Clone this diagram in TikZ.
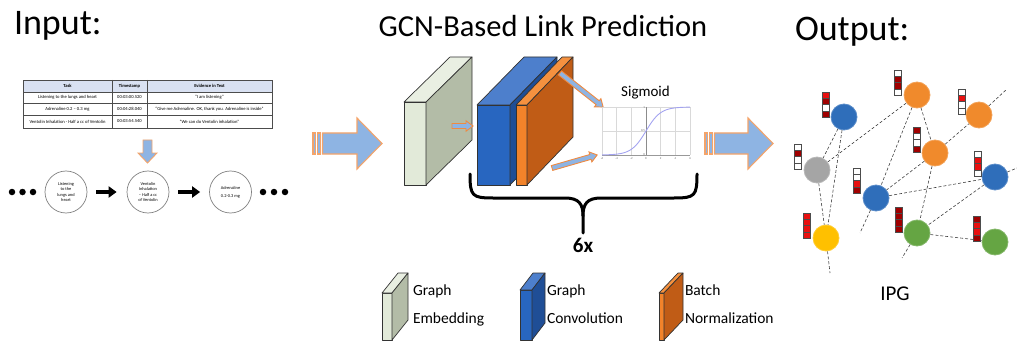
\documentclass[tikz,border=0pt]{standalone}
\usepackage{fontspec}
\setmainfont{Carlito}
\usetikzlibrary{arrows.meta}

\definecolor{arrblue}{HTML}{8EB4E3}
\definecolor{arrorange}{HTML}{F4A46A}
\definecolor{gefront}{HTML}{E2EAD9}
\definecolor{getop}{HTML}{E9EFE2}
\definecolor{geside}{HTML}{B3BCA7}
\definecolor{gcfront}{HTML}{2866C0}
\definecolor{gctop}{HTML}{4D7FCC}
\definecolor{gcside}{HTML}{1F4E96}
\definecolor{bnfront}{HTML}{F2832A}
\definecolor{bntop}{HTML}{F5913F}
\definecolor{bnside}{HTML}{C05C16}
\definecolor{nblue}{HTML}{2F6EBA}
\definecolor{norange}{HTML}{F08A2C}
\definecolor{ngray}{HTML}{A5A5A5}
\definecolor{nyellow}{HTML}{FFC000}
\definecolor{ngreen}{HTML}{65A543}
\definecolor{fred}{HTML}{E81010}
\definecolor{fdark}{HTML}{A00000}
\definecolor{thead}{HTML}{D9E1F2}
\definecolor{sigc}{HTML}{A3A3F0}
\definecolor{smorange}{HTML}{F08A40}

\newcommand{\drawblock}[9]{%
  \filldraw[blockline, fill=#7] (#1,#2) rectangle (#3,#4);
  \filldraw[blockline, fill=#8] (#1,#2) -- (#3,#2) -- ++(#5,#6) -- ++(#1-#3,0) -- cycle;
  \filldraw[blockline, fill=#9] (#3,#2) -- ++(#5,#6) -- ++(0,#4-#2) -- (#3,#4) -- cycle;
}
\newcommand{\fbar}[6]{%
  \foreach \cc [count=\ii from 0] in {#3,#4,#5,#6} {
    \filldraw[draw=black!70, line width=0.6pt, fill=\cc] (#1,#2+\ii*6.3) rectangle ++(7,6.3);
  }
}
\newcommand{\smallarr}[4]{%
  \begin{scope}[shift={(#1)}, rotate=#2]
    \filldraw[smallarrow] (0,-2.5) -- (#3-7,-2.5) -- (#3-7,-5.2) -- (#3,0) -- (#3-7,5.2) -- (#3-7,2.5) -- (0,2.5) -- cycle;
  \end{scope}
}

\begin{document}
\begin{tikzpicture}[x=1pt,y=-1pt,
  txt/.style={inner sep=0pt, outer sep=0pt},
  blockline/.style={draw=black!80, line width=0.7pt, line join=round},
  bigarrow/.style={fill=arrblue, draw=arrorange, line width=1.1pt, line join=miter},
  smallarrow/.style={fill=arrblue, draw=smorange, line width=0.9pt},
  cell/.style={txt, font=\fontsize{4.6}{5.5}\selectfont},
  hcell/.style={txt, font=\fontsize{4.6}{5.5}\selectfont\bfseries},
  evcirc/.style={circle, draw=black!50, line width=0.7pt, minimum size=42pt, inner sep=0pt, align=center, font=\fontsize{4.4}{5.4}\selectfont},
  dot/.style={circle, fill=black, minimum size=6.5pt, inner sep=0pt},
  blackarrow/.style={line width=3.2pt, -{Triangle[length=8pt,width=11pt]}},
  gnode/.style={circle, minimum size=26pt, inner sep=0pt, line width=0.8pt},
  gedge/.style={densely dashed, line width=0.6pt, draw=black!75},
  legend/.style={txt, anchor=base west, font=\fontsize{15.5}{18}\selectfont},
  tick/.style={txt, font=\fontsize{3}{3.5}\selectfont, text=black!60}
]
\useasboundingbox (0,0) rectangle (1017,342);

% ---------- titles ----------
\node[txt, anchor=base west, font=\fontsize{36}{40}\selectfont] (tin) at (14,35) {Input:};
\node[txt, anchor=base, font=\fontsize{30.5}{34}\selectfont] (tgcn) at (543,37) {GCN-Based Link Prediction};
\node[txt, anchor=base west, font=\fontsize{36}{40}\selectfont] (tout) at (795,41) {Output:};

% ---------- table ----------
\fill[thead] (23,80) rectangle (272,92);
\draw[black!70, line width=0.6pt] (23,80) rectangle (272,128);
\draw[black!70, line width=0.5pt] (23,92) -- (272,92) (23,103) -- (272,103) (23,115) -- (272,115)
   (112,80) -- (112,128) (147,80) -- (147,128);
\node[hcell] (h1) at (67.5,86) {Task};
\node[hcell] (h2) at (129.5,86) {Timestamp};
\node[hcell] (h3) at (209.5,86) {Evidence in Text};
\node[cell] (a1) at (67.5,97.5) {Listening to the lungs and heart};
\node[cell] (a2) at (129.5,97.5) {00:03:00.520};
\node[cell] (a3) at (209.5,97.5) {“I am listening”};
\node[cell] (b1) at (67.5,109) {Adrenaline 0.2 – 0.3 mg};
\node[cell] (b2) at (129.5,109) {00:04:28.040};
\node[cell] (b3) at (209.5,109) {“Give me Adrenaline. OK, thank you. Adrenaline is inside”};
\node[cell] (c1t) at (67.5,121.5) {Ventolin Inhalation - Half a cc of Ventolin};
\node[cell] (c2t) at (129.5,121.5) {00:03:54.540};
\node[cell] (c3t) at (209.5,121.5) {“We can do Ventolin inhalation”};

% down arrow
\filldraw[bigarrow, line width=0.9pt] (143,140) -- (152,140) -- (152,153) -- (157,153) -- (147.5,163) -- (138,153) -- (143,153) -- cycle;

% ---------- event chain ----------
\node[dot] (d1) at (12,192) {};
\node[dot] (d2) at (22.5,192) {};
\node[dot] (d3) at (33,192) {};
\node[evcirc] (e1) at (66,192) {Listening\\to the\\lungs and\\heart};
\node[evcirc] (e2) at (148,192) {Ventolin\\Inhalation\\– Half a cc\\of Ventolin};
\node[evcirc] (e3) at (230.5,192) {Adrenaline\\[2.5pt]0.2-0.3 mg};
\node[dot] (d4) at (263,192) {};
\node[dot] (d5) at (274,192) {};
\node[dot] (d6) at (285,192) {};
\draw[blackarrow, shorten <=9pt, shorten >=10pt] (e1) -- (e2);
\draw[blackarrow, shorten <=9pt, shorten >=9pt] (e2) -- (e3);

% ---------- big arrows ----------
\filldraw[bigarrow] (313,133) rectangle (315.5,154);
\filldraw[bigarrow] (317.5,133) rectangle (320.5,154);
\filldraw[bigarrow] (322.5,133) -- (357,133) -- (357,118) -- (382,143.5) -- (357,169) -- (357,154) -- (322.5,154) -- cycle;

\filldraw[bigarrow] (705,133) rectangle (707.5,154);
\filldraw[bigarrow] (709.5,133) rectangle (712.5,154);
\filldraw[bigarrow] (714.5,133) -- (748,133) -- (748,118) -- (773,143.5) -- (748,169) -- (748,154) -- (714.5,154) -- cycle;

% ---------- GCN blocks ----------
\drawblock{404}{102}{426}{185}{46}{-45}{gefront}{getop}{geside}
\drawblock{477}{105}{510}{185}{47}{-48}{gcfront}{gctop}{gcside}
\drawblock{516}{105}{527}{185}{46}{-48}{bnfront}{bntop}{bnside}

\coordinate (sa) at (452,126);
\coordinate (sb) at (560,73);
\coordinate (sc) at (552,168);
\smallarr{sa}{0}{21}{}
\smallarr{sb}{-38.3}{55}{}
\smallarr{sc}{16.1}{47}{}

% ---------- sigmoid plot ----------
\node[txt, anchor=base, font=\fontsize{15}{18}\selectfont] (sig) at (645.5,97) {Sigmoid};
\foreach \k in {0,...,6} {
  \draw[black!15, line width=0.5pt] ({602+\k*14.667},107) -- ({602+\k*14.667},155);
}
\draw[black!15, line width=0.5pt] (602,107) -- (690,107) (602,131) -- (690,131);
\draw[black!40, line width=0.5pt] (602,155) -- (690,155);
\draw[black!45, line width=0.5pt] (646,107) -- (646,155);
\draw[sigc, line width=0.9pt] plot[domain=-6:6, samples=80, smooth] ({646+\x*7.333}, {155-48/(1+exp(-\x))});
\foreach \v [count=\j from 0] in {-6,-4,-2,0,2,4,6} {
  \node[tick] at ({602+\j*14.667},158.5) {\v};
}
\node[tick, anchor=east] (y1) at (645,107.5) {1};
\node[tick, anchor=east] (y05) at (645,131) {0.5};
\node[tick, anchor=east] (y0) at (645,154.5) {0};

% ---------- brace ----------
\draw[line width=3pt, line cap=round, line join=round]
  (470,174) .. controls (470,196) and (472,198) .. (493,198) -- (565,198)
  .. controls (579,198) and (583,204) .. (583,216) -- (583,233);
\draw[line width=3pt, line cap=round, line join=round]
  (697,174) .. controls (697,196) and (695,198) .. (674,198) -- (601,198)
  .. controls (587,198) and (583,204) .. (583,216);
\node[txt, anchor=base, font=\fontsize{21}{24}\selectfont\bfseries] (six) at (583,252) {6x};

% ---------- legend ----------
\drawblock{382}{293}{392}{340}{16}{-20}{gefront}{getop}{geside}
\node[legend] (lg1) at (413,295) {Graph};
\node[legend] (lg2) at (413,323) {Embedding};
\drawblock{520}{290}{532}{340}{13}{-17}{gcfront}{gctop}{gcside}
\node[legend] (lc1) at (547,295) {Graph};
\node[legend] (lc2) at (547,323) {Convolution};
\drawblock{659}{293}{664}{340}{19}{-20}{bnfront}{bntop}{bnside}
\node[legend] (lb1) at (685,295) {Batch};
\node[legend] (lb2) at (685,323) {Normalization};

% ---------- output graph ----------
\coordinate (fy) at (830,273);
\coordinate (fb) at (860,233);
\coordinate (fg) at (902,258);
\coordinate (fo) at (1007,89);
\coordinate (fr) at (1017,168);

\node[gnode, fill=nblue, draw=nblue!80!white] (nb1) at (844,117) {};
\node[gnode, fill=norange, draw=norange!80!white] (no1) at (917,95) {};
\node[gnode, fill=norange, draw=norange!80!white] (no2) at (979,115) {};
\node[gnode, fill=norange, draw=norange!80!white] (no3) at (935,153) {};
\node[gnode, fill=ngray, draw=ngray!80!white] (ngr) at (817,170) {};
\node[gnode, fill=nblue, draw=nblue!80!white] (nb2) at (876,198) {};
\node[gnode, fill=nblue, draw=nblue!80!white] (nb3) at (995,177) {};
\node[gnode, fill=nyellow, draw=nyellow!80!white] (ny) at (826,238) {};
\node[gnode, fill=ngreen, draw=ngreen!80!white] (ng1) at (917,233) {};
\node[gnode, fill=ngreen, draw=ngreen!80!white] (ng2) at (995,242) {};

\draw[gedge] (nb1) -- (ngr);
\draw[gedge] (nb1) -- (ny);
\draw[gedge] (ngr) -- (ny);
\draw[gedge] (ngr) -- (no1);
\draw[gedge] (ny) -- (fy);
\draw[gedge] (no1) -- (no3);
\draw[gedge] (no1) -- (nb2);
\draw[gedge] (no3) -- (nb2);
\draw[gedge] (no3) -- (ng1);
\draw[gedge] (no3) -- (no2);
\draw[gedge] (no2) -- (fo);
\draw[gedge] (nb2) -- (nb3);
\draw[gedge] (nb2) -- (fb);
\draw[gedge] (nb3) -- (ng1);
\draw[gedge] (nb3) -- (fr);
\draw[gedge] (ng1) -- (ng2);
\draw[gedge] (ng1) -- (fg);

\fbar{822}{92}{fred}{fdark}{white}{fdark}
\fbar{894}{70}{white}{fdark}{fdark}{white}
\fbar{958}{89}{white}{fred}{white}{white}
\fbar{913}{127}{fdark}{white}{white}{fdark}
\fbar{794}{144}{white}{fdark}{white}{white}
\fbar{853}{168}{white}{white}{fred}{fdark}
\fbar{974}{151}{white}{fred}{fred}{white}
\fbar{803}{213}{fred}{fred}{fred}{fred}
\fbar{895}{207}{fdark}{fdark}{fdark}{fdark}
\fbar{973}{216}{fdark}{fred}{fred}{fdark}

\node[txt, anchor=base, font=\fontsize{21}{24}\selectfont] (ipg) at (895,300) {IPG};
\end{tikzpicture}
\end{document}
